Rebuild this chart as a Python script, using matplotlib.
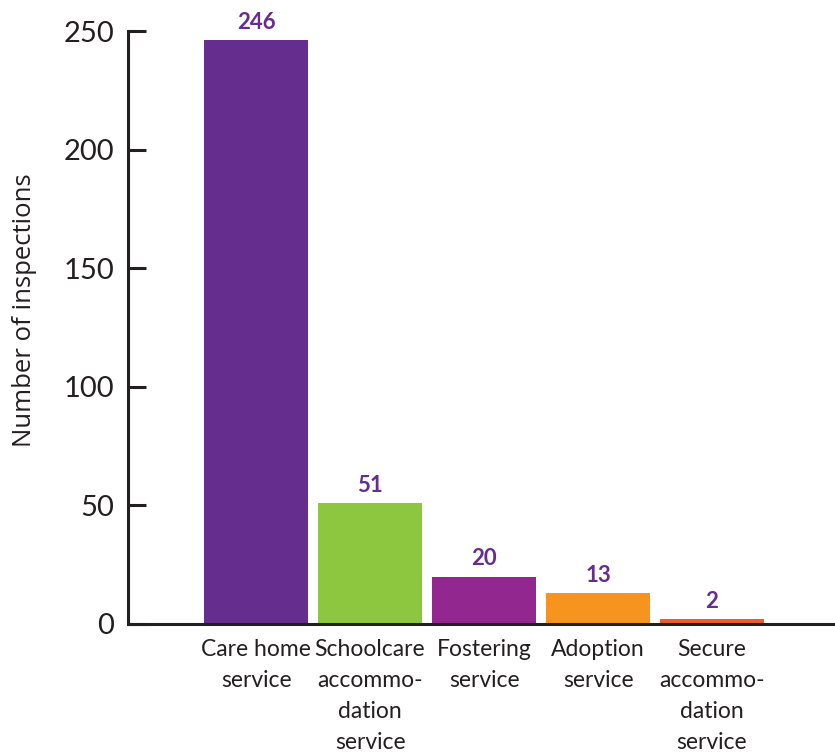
import numpy as np
import matplotlib.pyplot as plt

# data
categories = ['Care home\nservice', 'Schoolcare\naccommo-\ndation\nservice',
              'Fostering\nservice', 'Adoption\nservice',
              'Secure\naccommo-\ndation\nservice']
values = [246, 51, 20, 13, 2]
colors = ['#652D8E', '#8DC63F', '#92278F', '#F7941D', '#F15A29']

fig = plt.figure(figsize=(8.35, 7.54), dpi=100)
ax = fig.add_axes([128/835, 130/754, 1 - 128/835, (624-31)/754])

x = np.arange(len(values))
bars = ax.bar(x, values, width=0.91, color=colors)

# value labels above bars
for xi, v in zip(x, values):
    ax.text(xi, v + 3, str(v), ha='center', va='bottom', color='#652D8E',
            fontsize=16, fontweight='bold', family='Lato')

ax.set_xlim(-1.123, 5.079)
ax.set_ylim(0, 250)
ax.set_yticks([0, 50, 100, 150, 200, 250])
ax.set_xticks(x)
ax.set_xticklabels(categories, fontsize=16.5, family='Lato', linespacing=1.58,
                   color='#231F20')
ax.tick_params(axis='x', length=0, pad=11)
ax.tick_params(axis='y', direction='in', length=13, width=2.2, pad=10,
               labelsize=21, colors='#231F20')
for lab in ax.get_yticklabels():
    lab.set_family('Lato')

for s in ['top', 'right']:
    ax.spines[s].set_visible(False)
for s in ['left', 'bottom']:
    ax.spines[s].set_linewidth(2.2)
    ax.spines[s].set_color('#231F20')

fig.text(25/835, 1 - 310/754, 'Number of inspections', rotation=90,
         ha='center', va='center', fontsize=18.5, family='Open Sans',
         color='#231F20')

plt.savefig('out.png', dpi=100)
